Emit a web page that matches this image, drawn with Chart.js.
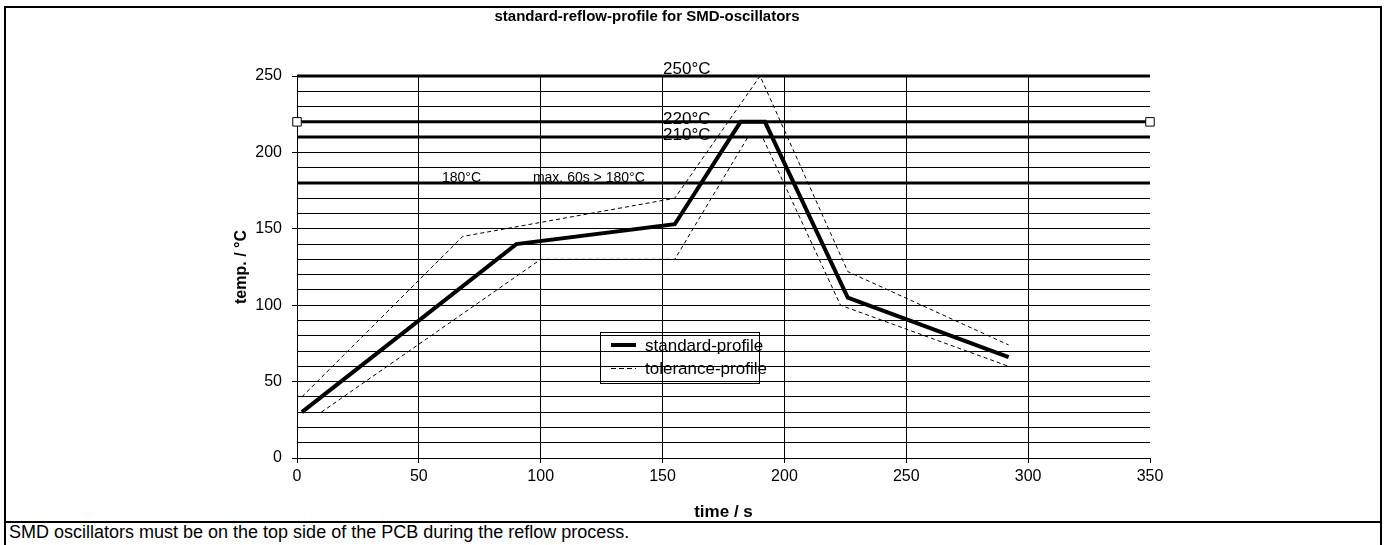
<!DOCTYPE html>
<html>
<head>
<meta charset="utf-8">
<script src="https://cdn.jsdelivr.net/npm/chart.js@4"></script>
<style>
  html, body { margin:0; padding:0; background:#fff; width:1385px; height:545px; overflow:hidden; }
  #frame { position:absolute; left:4px; top:6px; width:1374px; height:560px; border:2px solid #000; }
  #divider { position:absolute; left:4px; top:521px; width:1378px; height:2px; background:#000; }
  #note { position:absolute; left:9px; top:522px; font-family:Arial, "Liberation Sans", sans-serif; font-size:18px; color:#000; line-height:20px; }
  #wrap { position:absolute; left:6px; top:8px; width:1374px; height:513px; }
</style>
</head>
<body>
<div id="frame"></div>
<div id="divider"></div>
<div id="note">SMD oscillators must be on the top side of the PCB during the reflow process.</div>
<div id="wrap"><canvas id="c" width="1374" height="513"></canvas></div>
<script>
// ---- data ----
const chartTitle = 'standard-reflow-profile for SMD-oscillators';
const xTitle = 'time / s';
const yTitle = 'temp. / °C';

const stdTime = [2, 90, 155, 182, 192, 226, 292];
const stdTemp = [30, 140, 153, 220, 220, 105, 66];

const upTime = [2, 68, 155, 190, 226, 292];
const upTemp = [40, 145, 170, 250, 122, 74];

const loTime = [10, 100, 155, 185, 191, 223, 292];
const loTemp = [30, 130, 130, 210, 210, 100, 60];

const limitTemps = [250, 220, 210, 180];
const limitTimes = [0, 350];

const noteTexts = ['250°C', '220°C', '210°C', '180°C', 'max. 60s > 180°C'];
const noteTimes = [150.2, 150.2, 150.2, 59.5, 96.8];
const noteTemps = [251, 218.5, 208, 180.5, 180.5];
const noteSizes = [17, 17, 17, 14, 14];

const legendLabels = ['standard-profile', 'tolerance-profile'];

const xMin = 0, xMax = 350, xStep = 50;
const yMin = 0, yMax = 250, yStep = 10, yLabelStep = 50;

// ---- build ----
const pts = (xs, ys) => xs.map((x, i) => ({x, y: ys[i]}));
const FONT = 'Arial, "Liberation Sans", sans-serif';

const datasets = [];
limitTemps.forEach(t => {
  const marked = t === 220;
  datasets.push({
    label: 'limit ' + t,
    data: limitTimes.map(x => ({x, y: t})),
    borderColor: '#000', borderWidth: 3,
    pointRadius: marked ? 6 : 0,
    pointStyle: 'rect',
    pointBackgroundColor: '#fff', pointBorderColor: '#000', pointBorderWidth: 1,
    clip: false, order: 2
  });
});
datasets.push({
  label: 'tolerance-upper', data: pts(upTime, upTemp),
  borderColor: '#000', borderWidth: 1, borderDash: [4, 3], pointRadius: 0, clip: false, order: 1
});
datasets.push({
  label: 'tolerance-lower', data: pts(loTime, loTemp),
  borderColor: '#000', borderWidth: 1, borderDash: [4, 3], pointRadius: 0, clip: false, order: 1
});
datasets.push({
  label: 'standard-profile', data: pts(stdTime, stdTemp),
  borderColor: '#000', borderWidth: 4, pointRadius: 0, clip: false, order: 0
});

const notesPlugin = {
  id: 'notes',
  beforeDatasetsDraw(chart) {
    const {ctx, scales: {x, y}} = chart;
    ctx.save();
    ctx.fillStyle = '#000';
    ctx.textBaseline = 'alphabetic';
    ctx.textAlign = 'left';
    noteTexts.forEach((t, i) => {
      ctx.font = noteSizes[i] + 'px ' + FONT;
      ctx.fillText(t, x.getPixelForValue(noteTimes[i]), y.getPixelForValue(noteTemps[i]));
    });
    ctx.restore();
  },
  afterDatasetsDraw(chart) {
    const {ctx, chartArea: a} = chart;
    const bx = a.left + 303, by = a.top + 256, bw = 159, bh = 51;
    ctx.save();
    ctx.strokeStyle = '#000';
    ctx.lineWidth = 1;
    ctx.strokeRect(bx + 0.5, by + 0.5, bw, bh);
    ctx.font = '17px ' + FONT;
    ctx.fillStyle = '#000';
    ctx.textBaseline = 'middle';
    const rows = [by + 13, by + 36];
    ctx.lineWidth = 4;
    ctx.setLineDash([]);
    ctx.beginPath(); ctx.moveTo(bx + 11, rows[0]); ctx.lineTo(bx + 36, rows[0]); ctx.stroke();
    ctx.lineWidth = 1;
    ctx.setLineDash([5, 3]);
    ctx.beginPath(); ctx.moveTo(bx + 11, rows[1] + 0.5); ctx.lineTo(bx + 36, rows[1] + 0.5); ctx.stroke();
    ctx.setLineDash([]);
    ctx.fillText(legendLabels[0], bx + 45, rows[0] + 1);
    ctx.fillText(legendLabels[1], bx + 45, rows[1] + 1);
    ctx.restore();
  }
};

new Chart(document.getElementById('c'), {
  type: 'line',
  data: { datasets },
  plugins: [notesPlugin],
  options: {
    responsive: false,
    animation: false,
    events: [],
    layout: { padding: { left: 138, right: 230, top: 0, bottom: 0 } },
    plugins: {
      legend: { display: false },
      tooltip: { enabled: false },
      title: {
        display: true, text: chartTitle, color: '#000',
        font: { family: FONT, size: 15, weight: 'bold', lineHeight: 1.2 },
        padding: { top: 0, bottom: 50 }
      }
    },
    scales: {
      x: {
        type: 'linear', min: xMin, max: xMax,
        ticks: { stepSize: xStep, autoSkip: false, color: '#000', font: { family: FONT, size: 16 }, padding: 4, maxRotation: 0 },
        grid: {
          color: c => (c.tick && c.tick.value === xMax) ? 'rgba(0,0,0,0)' : '#000',
          lineWidth: 1, tickLength: 5, tickColor: '#000'
        },
        border: { display: true, color: '#000', width: 1 },
        title: { display: true, text: xTitle, color: '#000',
          font: { family: FONT, size: 17, weight: 'bold', lineHeight: 1 }, padding: { top: 0, bottom: 0 } },
        afterFit: s => { s.height = 63; }
      },
      y: {
        type: 'linear', min: yMin, max: yMax,
        ticks: { stepSize: yStep, autoSkip: false, color: '#000', font: { family: FONT, size: 16 }, padding: 10,
          callback: v => (v % yLabelStep === 0 ? v : '') },
        grid: {
          color: '#000', lineWidth: 1, tickLength: 5,
          tickColor: c => (c.tick && c.tick.value % yLabelStep === 0) ? '#000' : 'rgba(0,0,0,0)'
        },
        border: { display: true, color: '#000', width: 1 },
        title: { display: true, text: yTitle, color: '#000',
          font: { family: FONT, size: 16, weight: 'bold', lineHeight: 1.2 }, padding: { top: 88, bottom: 0 } },
        afterFit: s => { s.width = 153; }
      }
    }
  }
});
</script>
</body>
</html>
